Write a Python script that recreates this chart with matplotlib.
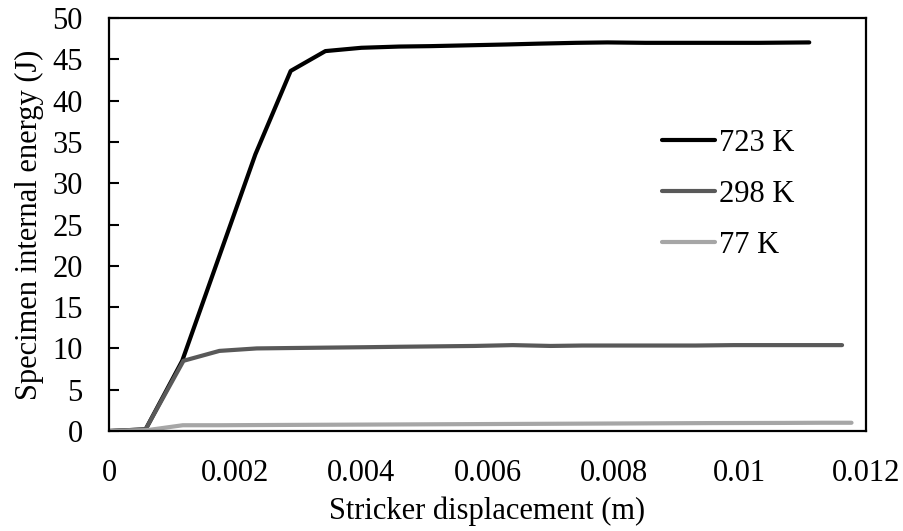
import matplotlib
matplotlib.use("Agg")
import matplotlib.pyplot as plt

plt.rcParams['font.family'] = ['Liberation Serif', 'DejaVu Serif']

x_723 = [0, 0.00058, 0.00116, 0.00174, 0.00232, 0.00288, 0.00343, 0.0040, 0.0046, 0.0051,
         0.0057, 0.0063, 0.0068, 0.0074, 0.0079, 0.0085, 0.0091, 0.0097, 0.0103, 0.0111]
y_723 = [0, 0.2, 8.5, 21.0, 33.5, 43.6, 46.0, 46.4, 46.55, 46.6,
         46.7, 46.8, 46.9, 47.0, 47.05, 47.0, 47.0, 47.0, 47.0, 47.05]

x_298 = [0, 0.00058, 0.00118, 0.00175, 0.00234, 0.0029, 0.0035, 0.0041, 0.0046, 0.0052,
         0.0058, 0.0064, 0.0070, 0.0075, 0.0081, 0.0087, 0.0093, 0.0099, 0.0105, 0.0110, 0.01162]
y_298 = [0, 0.2, 8.5, 9.7, 10.0, 10.05, 10.1, 10.15, 10.2, 10.25,
         10.3, 10.4, 10.3, 10.35, 10.35, 10.35, 10.35, 10.4, 10.4, 10.4, 10.4]

x_77 = [0, 0.0006, 0.00117, 0.00175, 0.0023, 0.0029, 0.0035, 0.0041, 0.0047, 0.0053,
        0.0059, 0.0065, 0.0071, 0.0077, 0.0083, 0.0089, 0.0095, 0.0101, 0.0107, 0.0113, 0.01177]
y_77 = [0, 0.1, 0.7, 0.7, 0.72, 0.74, 0.76, 0.78, 0.8, 0.82,
        0.84, 0.86, 0.88, 0.9, 0.92, 0.94, 0.96, 0.97, 0.98, 1.0, 1.0]

labels = ['723 K', '298 K', '77 K']
colors = ['#000000', '#595959', '#A6A6A6']
xtick_vals = [0, 0.002, 0.004, 0.006, 0.008, 0.01, 0.012]
xtick_labels = ['0', '0.002', '0.004', '0.006', '0.008', '0.01', '0.012']

FS = 22

fig = plt.figure(figsize=(9.04, 5.31), dpi=100)
ax = fig.add_axes([0.1206, 0.1883, 0.8374, 0.7777])

for xs, ys, lab, c in zip([x_723, x_298, x_77], [y_723, y_298, y_77], labels, colors):
    ax.plot(xs, ys, color=c, lw=3, label=lab, solid_capstyle='round')

ax.set_xlim(0, 0.012)
ax.set_ylim(0, 50)
ax.set_xticks(xtick_vals)
ax.set_xticklabels(xtick_labels)
ax.set_yticks(range(0, 51, 5))
ax.tick_params(axis='x', length=0, pad=20, labelsize=FS)
ax.tick_params(axis='y', direction='in', length=7, width=1.5, pad=19, labelsize=FS)
for s in ax.spines.values():
    s.set_linewidth(1.6)
    s.set_color('black')

ax.set_xlabel('Stricker displacement (m)', fontsize=FS, labelpad=6)
ax.set_ylabel('Specimen internal energy (J)', fontsize=FS, labelpad=6)

leg = ax.legend(loc='center left', bbox_to_anchor=(0.7305, 0.573), frameon=False,
                fontsize=FS, handlelength=1.75, handletextpad=0.12, labelspacing=0.72,
                borderpad=0, borderaxespad=0)

fig.savefig('out.png', dpi=100)
